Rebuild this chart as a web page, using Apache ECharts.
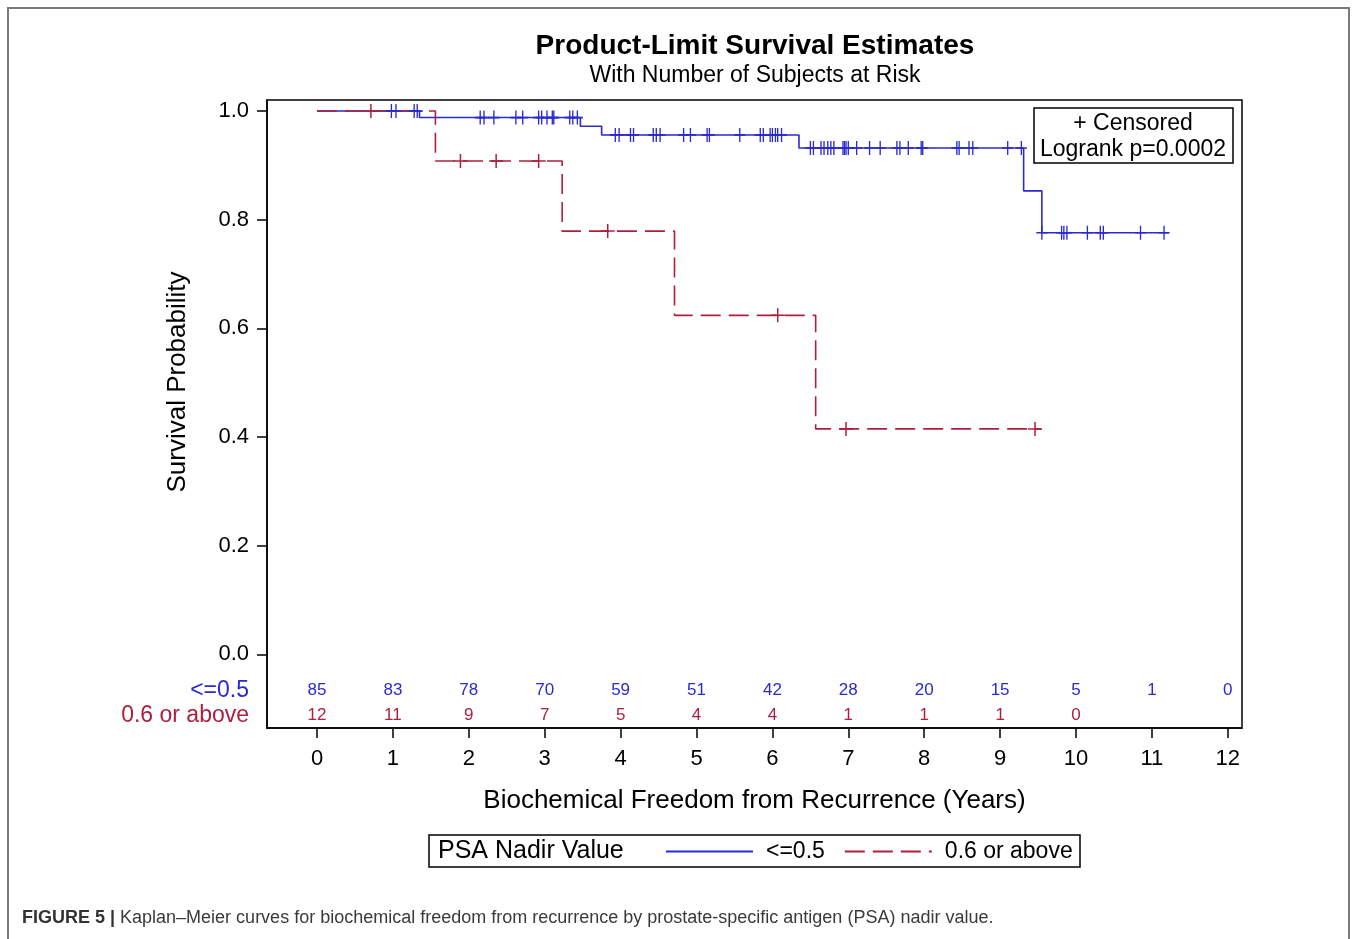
<!DOCTYPE html>
<html>
<head>
<meta charset="utf-8">
<title>Product-Limit Survival Estimates</title>
<script src="https://cdn.jsdelivr.net/npm/echarts@6/dist/echarts.min.js"></script>
<style>
  html, body { margin: 0; padding: 0; background: #fff; }
  #chart { width: 1358px; height: 939px; }
</style>
</head>
<body>
<div id="chart"></div>
<script>
// risk table
const years = [0, 1, 2, 3, 4, 5, 6, 7, 8, 9, 10, 11, 12]
const atRiskLow = [85, 83, 78, 70, 59, 51, 42, 28, 20, 15, 5, 1, 0]
const atRiskHigh = [12, 11, 9, 7, 5, 4, 4, 1, 1, 1, 0]
const yTicks = [0, 0.2, 0.4, 0.6, 0.8, 1.0]

// KM steps [time, survival]
const stepLow = [[0, 1], [1.35, 0.988], [3.47, 0.972], [3.75, 0.956], [6.35, 0.932], [9.31, 0.853], [9.55, 0.776], [11.22, 0.776]]
const stepHigh = [[0, 1], [1.56, 0.908], [3.23, 0.779], [4.71, 0.624], [6.57, 0.415], [9.54, 0.415]]

// censored times
const censorLow = [0.98, 1.04, 1.28, 1.32,
  2.15, 2.2, 2.33, 2.62, 2.71, 2.92, 2.96, 3.03, 3.10, 3.12, 3.33, 3.37, 3.43,
  3.93, 3.98, 4.13, 4.17, 4.43, 4.47, 4.52, 4.83, 4.92, 5.14, 5.17, 5.57, 5.84, 5.88, 5.97, 6.0, 6.04, 6.07, 6.12,
  6.50, 6.54, 6.64, 6.68, 6.73, 6.77, 6.81, 6.93, 6.95, 6.97, 7.0, 7.11, 7.28, 7.42, 7.64, 7.68, 7.79, 7.96, 7.98,
  8.43, 8.46, 8.59, 8.64, 9.10, 9.28,
  9.55, 9.81, 9.84, 9.88, 10.15, 10.32, 10.36, 10.85, 11.16]
const censorHigh = [0.71, 1.89, 2.36, 2.92, 3.83, 6.07, 6.97, 9.46]

const BLUE = '#2a2ad0'
const RED = '#ad1f3d'
const FONT = '"Liberation Sans", Arial, sans-serif'

const survivalAt = (steps, t) => {
  let s = steps[0][1]
  steps.forEach(p => { if (p[0] <= t) s = p[1] })
  return s
}

const plusMark = 'path://M5,0V10M0,5H10'

const chart = echarts.init(document.getElementById('chart'))

const option = {
  animation: false,
  textStyle: { fontFamily: FONT },
  title: {
    text: 'Product-Limit Survival Estimates',
    subtext: 'With Number of Subjects at Risk',
    left: 755,
    top: 32,
    padding: 0,
    textAlign: 'center',
    itemGap: 4,
    textStyle: { fontSize: 28, fontWeight: 'bold', color: '#000', fontFamily: FONT },
    subtextStyle: { fontSize: 23, color: '#000', fontFamily: FONT }
  },
  legend: {
    data: ['<=0.5', '0.6 or above'],
    left: 665,
    top: 840,
    padding: 0,
    itemWidth: 87,
    itemHeight: 14,
    itemGap: 19,
    itemStyle: { opacity: 0 },
    textStyle: { fontSize: 23, color: '#000', fontFamily: FONT, padding: [0, 0, 0, 8] }
  },
  grid: [
    { left: 267, right: 116, top: 100, bottom: 211, show: true, borderColor: '#000', borderWidth: 1.5 },
    { left: 267, right: 116, top: 678, bottom: 211 }
  ],
  xAxis: [
    { gridIndex: 0, type: 'value', min: -0.659, max: 12.187, show: false },
    {
      gridIndex: 1, type: 'value', min: -0.659, max: 12.187,
      axisLine: { show: true, onZero: false, lineStyle: { color: '#000', width: 1.5 } },
      axisTick: { show: true, length: 10, customValues: years, lineStyle: { color: '#000', width: 1.5 } },
      axisLabel: { customValues: years, fontSize: 22, color: '#000', margin: 20 },
      splitLine: { show: false },
      name: 'Biochemical Freedom from Recurrence (Years)',
      nameLocation: 'middle',
      nameGap: 60,
      nameTextStyle: { fontSize: 26, color: '#000' }
    }
  ],
  yAxis: [
    {
      gridIndex: 0, type: 'value', min: -0.1354, max: 1.0203,
      axisLine: { show: true, onZero: false, lineStyle: { color: '#000', width: 1.5 } },
      axisTick: { show: true, length: 10, customValues: yTicks, lineStyle: { color: '#000', width: 1.5 } },
      axisLabel: { customValues: yTicks, formatter: v => v.toFixed(1), fontSize: 22, color: '#000', margin: 18 },
      splitLine: { show: false }
    },
    {
      gridIndex: 1, type: 'category', data: ['0.6 or above', '<=0.5'],
      axisLine: { show: false, onZero: false },
      axisTick: { show: false },
      axisLabel: { interval: 0, fontSize: 23, margin: 18, color: v => (v === '<=0.5' ? BLUE : RED) }
    }
  ],
  series: [
    {
      name: '<=0.5', type: 'line', step: 'end', data: stepLow,
      showSymbol: false, symbol: 'none', color: BLUE,
      lineStyle: { color: BLUE, width: 1.6 }, z: 2
    },
    {
      name: '0.6 or above', type: 'line', step: 'end', data: stepHigh,
      showSymbol: false, symbol: 'none', color: RED,
      lineStyle: { color: RED, width: 1.6, type: [20, 8] }, z: 3
    },
    {
      name: 'censor low', type: 'scatter',
      data: censorLow.map(t => [t, survivalAt(stepLow, t)]),
      symbol: plusMark, symbolSize: [11, 14],
      itemStyle: { color: 'transparent', borderColor: BLUE, borderWidth: 1.5, opacity: 1 }, z: 4
    },
    {
      name: 'censor high', type: 'scatter',
      data: censorHigh.map(t => [t, survivalAt(stepHigh, t)]),
      symbol: plusMark, symbolSize: [14, 14],
      itemStyle: { color: 'transparent', borderColor: RED, borderWidth: 1.5, opacity: 1 }, z: 5
    },
    {
      name: 'risk low', type: 'scatter', xAxisIndex: 1, yAxisIndex: 1,
      data: atRiskLow.map((n, i) => [years[i], '<=0.5', n]),
      symbolSize: 0.1, itemStyle: { color: 'transparent', opacity: 1 },
      label: { show: true, position: 'inside', formatter: p => p.value[2], fontSize: 17, color: BLUE }
    },
    {
      name: 'risk high', type: 'scatter', xAxisIndex: 1, yAxisIndex: 1,
      data: atRiskHigh.map((n, i) => [years[i], '0.6 or above', n]),
      symbolSize: 0.1, itemStyle: { color: 'transparent', opacity: 1 },
      label: { show: true, position: 'inside', formatter: p => p.value[2], fontSize: 17, color: RED }
    }
  ],
  graphic: [
    {
      type: 'rect', silent: true,
      shape: { x: 8, y: 8, width: 1341, height: 1000 },
      style: { fill: 'none', stroke: '#7a7a7a', lineWidth: 2 }
    },
    {
      type: 'text', x: 178, y: 382, rotation: Math.PI / 2,
      style: { text: 'Survival Probability', font: '26px ' + FONT, fill: '#000', align: 'center', verticalAlign: 'middle' }
    },
    {
      type: 'rect', z: 10,
      shape: { x: 1034, y: 108, width: 199, height: 55 },
      style: { fill: '#fff', stroke: '#000', lineWidth: 1.5 }
    },
    {
      type: 'text', z: 11, x: 1133, y: 124,
      style: { text: '+ Censored', font: '23px ' + FONT, fill: '#000', align: 'center', verticalAlign: 'middle' }
    },
    {
      type: 'text', z: 11, x: 1133, y: 150,
      style: { text: 'Logrank p=0.0002', font: '23px ' + FONT, fill: '#000', align: 'center', verticalAlign: 'middle' }
    },
    {
      type: 'rect',
      shape: { x: 429, y: 835, width: 651, height: 32 },
      style: { fill: 'none', stroke: '#000', lineWidth: 1.5 }
    },
    {
      type: 'text', x: 438, y: 851,
      style: { text: 'PSA Nadir Value', font: '25px ' + FONT, fill: '#000', align: 'left', verticalAlign: 'middle' }
    },
    {
      type: 'text', x: 22, y: 918,
      style: {
        text: '{b|FIGURE 5 |} Kaplan–Meier curves for biochemical freedom from recurrence by prostate-specific antigen (PSA) nadir value.',
        font: '18px ' + FONT, fill: '#3a3a3a', align: 'left', verticalAlign: 'middle',
        rich: { b: { fontWeight: 'bold', fontSize: 18, fontFamily: FONT, fill: '#333' } }
      }
    }
  ]
}

chart.setOption(option)
window.addEventListener('resize', () => chart.resize())
</script>
</body>
</html>
